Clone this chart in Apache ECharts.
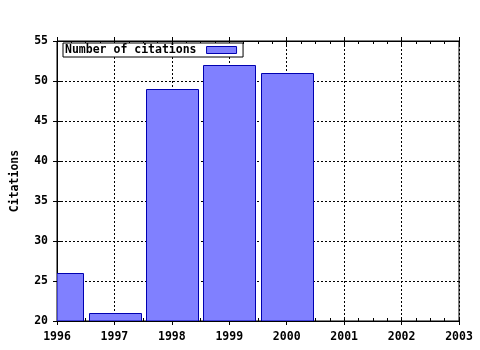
<!DOCTYPE html>
<html><head><meta charset="utf-8">
<script src="https://cdn.jsdelivr.net/npm/echarts@6/dist/echarts.min.js"></script>
<style>html,body{margin:0;padding:0;background:#fff}#c{width:480px;height:350px}</style>
</head><body><div id="c"></div>
<script>
var years = [1996, 1997, 1998, 1999, 2000];
var citations = [26, 21, 49, 52, 51];
var seriesName = 'Number of citations';
var yTitle = 'Citations';

var FONT = 'DejaVu Sans Mono';
var FS = 11.5;
var chart = echarts.init(document.getElementById('c'));
var dataPairs = years.map(function (y, i) { return [y, citations[i]]; });
var hidden = {show: false};
var gridLine = {show: true, lineStyle: {color: '#000', type: [2, 2], width: 1}};
function xAx(pos, opts) {
  return Object.assign({
    type: 'value', position: pos, min: 1996, max: 2003, interval: 1,
    axisLine: {show: true, lineStyle: {color: '#000', width: 1}},
    axisLabel: {show: false}, splitLine: hidden, axisTick: hidden, minorTick: hidden
  }, opts);
}
chart.setOption({
  animation: false,
  textStyle: {fontFamily: FONT},
  grid: {left: 57, right: 21, top: 41, bottom: 29, show: true, borderColor: '#000', borderWidth: 1,
    containLabel: false, outerBoundsMode: 'none'},
  legend: {
    show: true, data: [seriesName], left: 63, top: 43, align: 'right',
    icon: 'rect', itemWidth: 30, itemHeight: 7, itemGap: 0,
    padding: [1, 6, 1, 2],
    borderColor: '#000', borderWidth: 1, backgroundColor: '#fff',
    textStyle: {fontFamily: FONT, fontWeight: 'bold', fontSize: FS, color: '#000', padding: [0, 5, 0, 0]},
    itemStyle: {color: '#8080ff', borderColor: '#0000b0', borderWidth: 1}
  },
  xAxis: [
    xAx('bottom', {
      axisLabel: {show: true, color: '#000', fontFamily: FONT, fontWeight: 'bold', fontSize: FS, margin: 10,
        formatter: function (v) { return String(v); }},
      axisTick: {show: true, length: 4, lineStyle: {color: '#000'}},
      splitLine: gridLine
    }),
    xAx('bottom', {
      axisTick: {show: true, inside: true, length: 4, lineStyle: {color: '#000'}},
      minorTick: {show: true, splitNumber: 4, length: 3, lineStyle: {color: '#000'}}
    }),
    xAx('top', {
      axisTick: {show: true, inside: true, length: 4, lineStyle: {color: '#000'}},
      minorTick: {show: true, splitNumber: 4, length: 3, lineStyle: {color: '#000'}}
    }),
    xAx('top', {
      axisTick: {show: true, length: 4, lineStyle: {color: '#000'}}
    })
  ],
  yAxis: [{
    type: 'value', min: 20, max: 55, interval: 5,
    name: yTitle, nameLocation: 'middle', nameGap: 36,
    nameTextStyle: {color: '#000', fontFamily: FONT, fontWeight: 'bold', fontSize: FS},
    axisLine: {show: true, lineStyle: {color: '#000'}},
    axisTick: {show: true, length: 4, lineStyle: {color: '#000'}},
    axisLabel: {color: '#000', fontFamily: FONT, fontWeight: 'bold', fontSize: FS, margin: 9},
    splitLine: gridLine
  }, {
    type: 'value', min: 20, max: 55, interval: 5, position: 'left',
    axisLine: hidden, axisLabel: hidden, splitLine: hidden,
    axisTick: {show: true, inside: true, length: 4, lineStyle: {color: '#000'}}
  }],
  series: [{
    name: seriesName, type: 'custom', xAxisIndex: 0, yAxisIndex: 0,
    data: dataPairs, clip: true,
    itemStyle: {color: '#8080ff', borderColor: '#0000b0', borderWidth: 1},
    encode: {x: 0, y: 1},
    renderItem: function (params, api) {
      var x = api.value(0), v = api.value(1);
      var top = api.coord([x, v]);
      var base = api.coord([x, 0]);
      var w = api.size([1, 0])[0] * 0.9;
      var cs = params.coordSys;
      var rect = echarts.graphic.clipRectByRect(
        {x: Math.round(top[0] - w / 2) + 0.5, y: Math.round(top[1]) + 0.5, width: Math.round(w), height: base[1] - top[1]},
        {x: cs.x, y: cs.y, width: cs.width, height: cs.height});
      return rect && {type: 'rect', shape: rect, style: api.style()};
    }
  }]
});
</script></body></html>
